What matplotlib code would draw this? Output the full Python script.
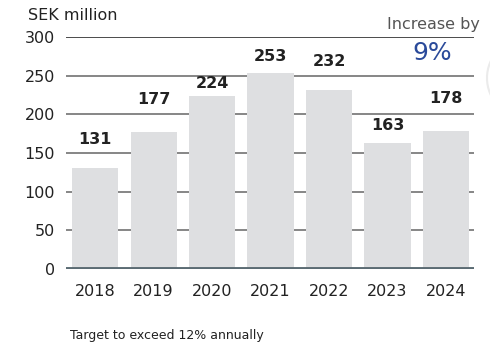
import matplotlib.pyplot as plt
from matplotlib.patches import Ellipse

years = ["2018", "2019", "2020", "2021", "2022", "2023", "2024"]
values = [131, 177, 224, 253, 232, 163, 178]
# label gap above each bar, in points (labels sit unevenly in the original)
label_gap = [15, 18, 3.5, 7, 15, 7.5, 18]
y_ticks = [0, 50, 100, 150, 200, 250, 300]

plt.rcParams['font.family'] = ['DejaVu Sans']

fig = plt.figure(figsize=(4.9, 3.45), dpi=100)
ax = fig.add_axes([0.1347, 0.2203, 0.8326, 0.6725])

x = list(range(len(years)))
ax.bar(x, values, width=0.79, color="#dedfe1", zorder=2)

for t in y_ticks[1:]:
    ax.axhline(t, color="#1a1a1a" if t == 300 else "#666666", lw=1.1, zorder=1)
ax.axhline(0, color="#5b6b73", lw=2.8, zorder=3)

for xi, v, g in zip(x, values, label_gap):
    ax.annotate(str(v), (xi, v), xytext=(0, g), textcoords="offset points",
                ha="center", va="bottom", fontsize=11.5, fontweight="bold",
                color="#222222")

ax.set_xlim(-0.5, 6.48)
ax.set_ylim(0, 300)
ax.set_xticks(x)
ax.set_xticklabels(years)
ax.set_yticks(y_ticks)
ax.tick_params(length=0, labelsize=11.5, colors="#222222")
ax.tick_params(axis="x", pad=11)
ax.tick_params(axis="y", pad=8)
for s in ax.spines.values():
    s.set_visible(False)

# faint circle edge peeking in at the right border
fig.patches.append(Ellipse((527 / 490, 1 - 78 / 345), 80 / 490, 80 / 345,
                           transform=fig.transFigure, fill=False,
                           edgecolor="#ebebeb", lw=1.5))

fig.text(28 / 490, 1 - 16 / 345, "SEK million", fontsize=11.5, color="#222222",
         ha="left", va="center")
fig.text(480 / 490, 1 - 25 / 345, "Increase by", fontsize=11.5, color="#555555",
         ha="right", va="center")
fig.text(432 / 490, 1 - 53 / 345, "9%", fontsize=18, color="#2a4a9a",
         ha="center", va="center")
fig.text(70 / 490, 1 - 335 / 345, "Target to exceed 12% annually", fontsize=9,
         color="#222222", ha="left", va="center")

fig.savefig("out.png", dpi=100)
